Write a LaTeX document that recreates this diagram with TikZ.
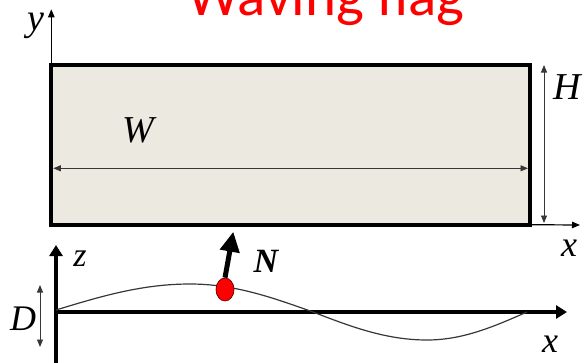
\documentclass[tikz,border=0pt]{standalone}
\usepackage{fontspec}
\setmainfont{Liberation Serif}
\newfontfamily\titlefont{Carlito}
\usetikzlibrary{arrows.meta,shapes.geometric}
\definecolor{flagfill}{RGB}{236,233,224}
\definecolor{thinline}{RGB}{55,55,55}
\begin{document}
\begin{tikzpicture}[x=1pt,y=-1pt,
  lbl/.style={inner sep=0pt,font=\fontsize{38}{40}\selectfont\itshape},
  thinaxis/.style={draw=black,line width=1.2pt,-{Triangle[length=8pt,width=6.5pt]}},
  dimarrow/.style={draw=thinline,line width=0.9pt,{Triangle[length=7.5pt,width=6pt]}-{Triangle[length=7.5pt,width=6pt]}},
  thickaxis/.style={draw=black,line width=4pt,-{Triangle[length=11pt,width=13pt]}},
  wave/.style={draw=thinline,line width=1.2pt},
  normalarrow/.style={draw=black,line width=5pt,-{Triangle[length=20pt,width=19pt]}}]
\path[use as bounding box,clip] (0,0) rectangle (584,362);

% title
\node (title) [anchor=base,text=red,inner sep=0pt,font=\titlefont\fontsize{59}{60}\selectfont] at (326,15) {Waving flag};

% flag
\node (flag) [draw=black,line width=4pt,fill=flagfill,rectangle,inner sep=0pt,outer sep=0pt,
  minimum width=478.7pt,minimum height=160pt] at (290.65,144.7) {};

\coordinate (ytip) at (51.3,9.3);
\coordinate (xtip) at (580,225);
\draw[thinaxis] (flag.north west) -- (ytip);
\draw[thinaxis] (flag.south east) -- (xtip);

\coordinate (Htop) at (544,65);
\coordinate (Hbot) at (544,223);
\draw[dimarrow] (Htop) -- (Hbot);
\coordinate (Wl) at (53.3,168.3);
\coordinate (Wr) at (528,168.3);
\draw[dimarrow] (Wl) -- (Wr);

\node (ylab) [lbl] at (36,26) {y};
\node (Hlab) [lbl] at (567,87) {H};
\node (Wlab) [lbl] at (138,130) {W};
\node (xlab) [lbl,font=\fontsize{36}{38}\selectfont\itshape] at (569,248) {x};

% lower section
\coordinate (zbase) at (56,366);
\coordinate (ztip) at (56,245);
\coordinate (O) at (54,312);
\coordinate (xtip2) at (567,312);
\draw[thickaxis] (zbase) -- (ztip);
\draw[thickaxis] (O) -- (xtip2);

\coordinate (Dtop) at (40,285);
\coordinate (Dbot) at (40,347);
\draw[dimarrow] (Dtop) -- (Dbot);

\coordinate (w0) at (56,310);
\coordinate (w1) at (190,284);
\coordinate (w2) at (313,312);
\coordinate (w3) at (427,340);
\coordinate (w4) at (527,312);
\draw[wave] (w0) sin (w1) cos (w2) sin (w3) cos (w4);

\node (dot) [ellipse,fill=red,draw=black!60!red,line width=0.7pt,inner sep=0pt,
  minimum width=18pt,minimum height=23pt] at (225,289.5) {};
\coordinate (Ntip) at (233.3,231.7);
\draw[normalarrow] (dot.north) -- (Ntip);

\node (zlab) [lbl,font=\fontsize{34}{36}\selectfont\itshape] at (80,258.5) {z};
\node (Dlab) [lbl,font=\fontsize{36}{38}\selectfont\itshape] at (23,319) {D};
\node (xlab2) [lbl,font=\fontsize{36}{38}\selectfont\itshape] at (550,344) {x};
\node (Nlab) [lbl,font=\fontsize{34}{36}\selectfont\bfseries\itshape] at (266,261.5) {N};
\end{tikzpicture}
\end{document}
